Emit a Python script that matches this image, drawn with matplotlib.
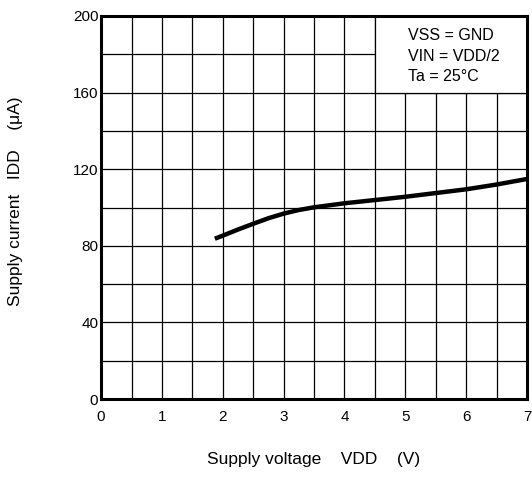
import matplotlib.pyplot as plt
from matplotlib.patches import Rectangle

plt.rcParams['font.family'] = ['Liberation Sans', 'DejaVu Sans']

# supply current IDD (uA) vs supply voltage VDD (V)
vdd = [1.87, 2.0, 2.25, 2.5, 2.75, 3.0, 3.25, 3.5, 4.0, 5.0, 6.0, 6.5, 7.0]
idd = [83.7, 85.3, 88.5, 91.5, 94.4, 96.8, 98.7, 100.1, 102.2, 105.6, 109.5,
       112.0, 114.9]

x_ticks = [0, 1, 2, 3, 4, 5, 6, 7]
y_ticks = [0, 40, 80, 120, 160, 200]
notes = ["VSS = GND", "VIN = VDD/2", "Ta = 25°C"]

fig = plt.figure(figsize=(5.32, 4.79), dpi=100)
ax = fig.add_axes([0.19, 0.167, 0.8006, 0.7996])

ax.set_xlim(0, 7)
ax.set_ylim(0, 200)

# grid every 0.5 V and 20 uA
for i in range(1, 14):
    ax.axvline(i * 0.5, color='black', lw=0.9, zorder=1)
for j in range(1, 10):
    ax.axhline(j * 20, color='black', lw=0.9, zorder=1)

# condition box in the top right corner
ax.add_patch(Rectangle((4.5, 160), 2.5, 40, facecolor='white',
                       edgecolor='black', lw=0.9, zorder=2))
ax.text(5.04, 179, "\n".join(notes), fontsize=11.5, va='center', ha='left',
        linespacing=1.45, zorder=3)

ax.plot(vdd, idd, color='black', lw=3.2, zorder=4, solid_capstyle='butt',
        solid_joinstyle='round')

ax.set_xticks(x_ticks)
ax.set_yticks(y_ticks)
ax.tick_params(length=0, labelsize=11)
ax.tick_params(axis='x', pad=8)
ax.tick_params(axis='y', pad=2)
for s in ax.spines.values():
    s.set_linewidth(2.2)
    s.set_zorder(5)

fig.text(0.029, 0.58, "Supply current   IDD    (μA)", rotation=90,
         fontsize=12.5, ha='center', va='center')
fig.text(0.59, 0.025, "Supply voltage    VDD    (V)", fontsize=12.5,
         ha='center', va='bottom')

fig.savefig("out.png", dpi=100)
